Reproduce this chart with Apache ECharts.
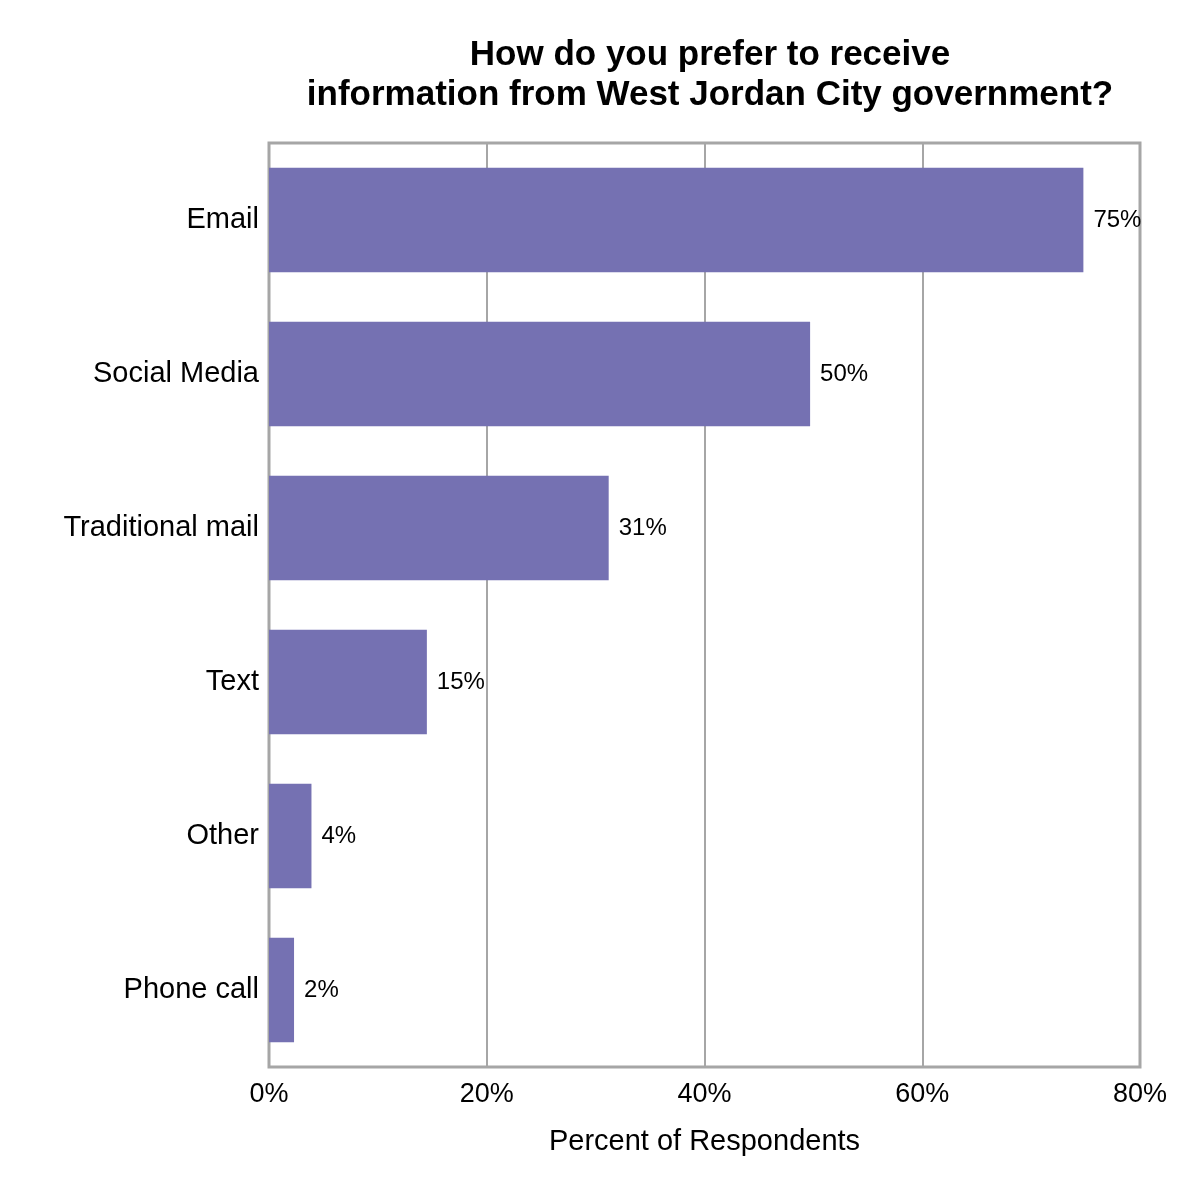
<!DOCTYPE html>
<html><head><meta charset="utf-8">
<script src="https://cdn.jsdelivr.net/npm/echarts@6/dist/echarts.min.js"></script>
<style>html,body{margin:0;padding:0;background:#fff}#c{width:1200px;height:1200px}</style>
</head><body><div id="c"></div>
<script>
const categories = ["Phone call","Other","Text","Traditional mail","Social Media","Email"];
const values = [2.3, 3.9, 14.5, 31.2, 49.7, 74.8];
const xTicks = [0, 20, 40, 60, 80];
const chart = echarts.init(document.getElementById('c'));
const F = '"Liberation Sans", Arial, sans-serif';
chart.setOption({
  animation: false,
  title: {
    text: 'How do you prefer to receive\ninformation from West Jordan City government?',
    left: 705, top: 30, textAlign: 'center',
    textStyle: {fontFamily: F, fontSize: 35, fontWeight: 'bold', color: '#000', lineHeight: 40}
  },
  grid: {left: 269, right: 60, top: 143, bottom: 133, show: true, borderColor: '#a6a6a6', borderWidth: 3},
  xAxis: {
    type: 'value', min: 0, max: 80, interval: 20,
    name: 'Percent of Respondents', nameLocation: 'middle', nameGap: 60,
    nameTextStyle: {fontFamily: F, fontSize: 29, color: '#000'},
    axisLabel: {fontFamily: F, fontSize: 27, color: '#000', margin: 14, formatter: v => xTicks.includes(v) ? v + '%' : ''},
    axisLine: {show: false}, axisTick: {show: false},
    splitLine: {lineStyle: {color: '#a6a6a6', width: 2}}
  },
  yAxis: {
    type: 'category', data: categories,
    axisLabel: {fontFamily: F, fontSize: 29, color: '#000', margin: 10},
    axisLine: {show: false}, axisTick: {show: false}
  },
  series: [{
    type: 'bar', data: values, barWidth: '68%',
    itemStyle: {color: '#7571b2'},
    label: {show: true, position: 'right', distance: 10, fontFamily: F, fontSize: 24, color: '#000',
      formatter: p => Math.round(p.value) + '%'}
  }]
});
</script></body></html>
